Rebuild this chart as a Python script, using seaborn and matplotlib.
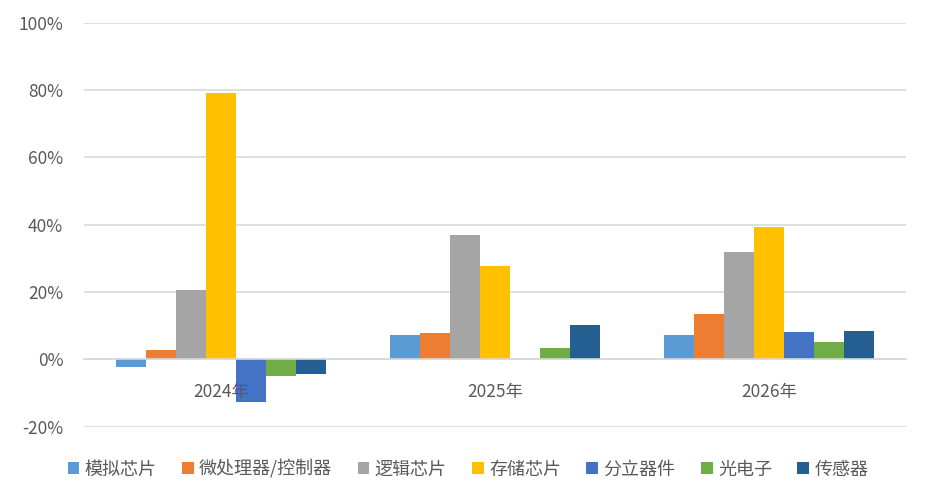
import matplotlib
matplotlib.use("Agg")
import matplotlib.pyplot as plt
import seaborn as sns
import pandas as pd
from matplotlib.ticker import FuncFormatter

years = ["2024年", "2025年", "2026年"]
categories = ["模拟芯片", "微处理器/控制器", "逻辑芯片", "存储芯片", "分立器件", "光电子", "传感器"]
analog = [-2.2, 7.1, 7.1]
micro = [2.8, 7.7, 13.6]
logic = [20.5, 36.8, 31.8]
memory = [79.2, 27.6, 39.3]
discrete = [-12.8, 0.0, 8.0]
opto = [-4.8, 3.3, 5.3]
sensor = [-4.2, 10.1, 8.3]
series = [analog, micro, logic, memory, discrete, opto, sensor]
colors = ["#5B9BD5", "#ED7D31", "#A5A5A5", "#FFC000", "#4472C4", "#70AD47", "#255E91"]

rows = []
for cat, vals in zip(categories, series):
    for y, v in zip(years, vals):
        rows.append({"year": y, "cat": cat, "value": v})
df = pd.DataFrame(rows)

sns.set_theme(style="white")
plt.rcParams['font.family'] = ['Noto Sans CJK SC', 'DejaVu Sans']

fig = plt.figure(figsize=(9.28, 5.03), dpi=100)
ax = fig.add_axes([84/928, 1-426.7/503, 822/928, (426.7-22.7)/503])

sns.barplot(data=df, x="year", y="value", hue="cat", hue_order=categories,
            order=years, palette=colors, width=0.766, saturation=1,
            errorbar=None, ax=ax, legend=True, linewidth=0, edgecolor="none")

ax.set_ylim(-20, 100)
ax.set_yticks(range(-20, 101, 20))
ax.yaxis.set_major_formatter(FuncFormatter(lambda v, p: f"{int(v)}%"))
ax.set_xlim(-0.5, 2.5)
ax.grid(axis="y", color="#D9D9D9", linewidth=1.2)
ax.set_axisbelow(True)
ax.xaxis.set_zorder(3)
for s in ["top", "right", "left"]:
    ax.spines[s].set_visible(False)
ax.spines["bottom"].set_position(("data", 0))
ax.spines["bottom"].set_color("#D9D9D9")
ax.spines["bottom"].set_linewidth(1.2)
ax.tick_params(axis="both", length=0, labelsize=12.5, labelcolor="#595959")
ax.tick_params(axis="y", pad=15)
ax.tick_params(axis="x", pad=17)
ax.set_xlabel("")
ax.set_ylabel("")

handles, labels = ax.get_legend_handles_labels()
ax.legend(handles, labels, loc="center", bbox_to_anchor=(468/928, 1-469/503),
          bbox_transform=fig.transFigure, ncol=7, frameon=False,
          fontsize=13, handlelength=0.65, handleheight=0.65, handletextpad=0.3,
          columnspacing=1.4, labelcolor="#595959")

fig.savefig("out.png", dpi=100)
